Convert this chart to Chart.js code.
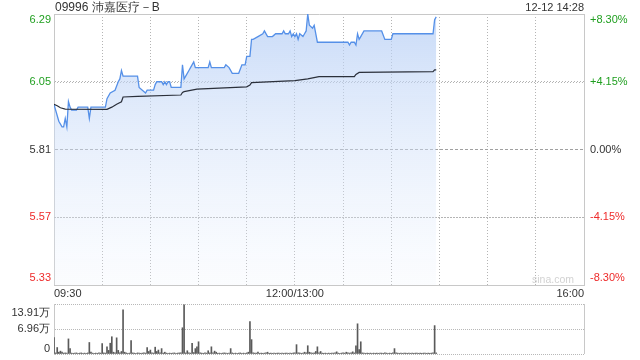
<!DOCTYPE html>
<html><head><meta charset="utf-8">
<script src="https://cdn.jsdelivr.net/npm/chart.js@4/dist/chart.umd.min.js"></script>
<style>
html,body{margin:0;padding:0;background:#fff;}
#wrap{position:relative;width:640px;height:360px;overflow:hidden;font-family:"Liberation Sans",Arial,sans-serif;}
#main{position:absolute;left:0;top:0;}
#vol{position:absolute;left:0;top:296px;}
.t{position:absolute;white-space:nowrap;color:#333;}
</style></head><body>
<div id="wrap">
<canvas id="main" width="640" height="300"></canvas>
<canvas id="vol" width="640" height="64"></canvas>
<div class="t" style="left:55px;top:0;font-size:12px;line-height:15px;">09996 沛嘉医疗－B</div>
<div class="t" style="right:56px;top:0;font-size:11px;line-height:15px;">12-12 14:28</div>
<div class="t" style="left:532px;top:273px;font-size:10.5px;line-height:13px;color:#d2d2d2;">sina.com</div>
</div>
<script>
const prevClose = 5.81;
const priceTicks = [5.33, 5.57, 5.81, 6.05, 6.29];
const priceTickLabels = ['5.33', '5.57', '5.81', '6.05', '6.29'];
const pctTickLabels = ['-8.30%', '-4.15%', '0.00%', '+4.15%', '+8.30%'];
const xTicks = [0, 30, 60, 90, 120, 150, 180, 210, 240, 270, 300, 330];
const xTickLabels = ['09:30', '', '', '', '', '12:00/13:00', '', '', '', '', '', '16:00'];

const priceMinutes = [0, 3, 5, 6, 7, 8, 9, 10, 11, 14, 15, 21, 22, 23, 32, 33, 35, 38, 40, 41, 42, 43, 52, 53, 55, 57, 58, 62, 63, 64, 67, 68, 69, 70, 71, 72, 73, 79, 80, 81, 82, 84, 85, 87, 88, 96, 97, 98, 106, 107, 109, 111, 115, 117, 119, 120, 122, 123, 124, 127, 130, 131, 133, 136, 138, 142, 143, 144, 146, 147, 148, 149, 150, 151, 152, 153, 155, 156, 157, 158, 159, 161, 162, 164, 183, 184, 185, 187, 188, 189, 190, 191, 193, 204, 206, 210, 211, 236, 237, 238];
const priceValues = [5.97, 5.91, 5.89, 5.89, 5.92, 5.89, 5.98, 5.96, 5.95, 5.95, 5.96, 5.96, 5.92, 5.96, 5.96, 5.99, 6.01, 6.02, 6.05, 6.06, 6.09, 6.07, 6.07, 6.03, 6.02, 6.01, 6.02, 6.02, 6.04, 6.05, 6.05, 6.04, 6.05, 6.04, 6.05, 6.05, 6.03, 6.03, 6.11, 6.06, 6.07, 6.09, 6.10, 6.12, 6.10, 6.10, 6.12, 6.10, 6.10, 6.11, 6.10, 6.08, 6.08, 6.11, 6.11, 6.14, 6.14, 6.20, 6.20, 6.21, 6.22, 6.23, 6.21, 6.21, 6.22, 6.22, 6.23, 6.22, 6.22, 6.23, 6.21, 6.22, 6.21, 6.22, 6.20, 6.22, 6.21, 6.22, 6.23, 6.29, 6.25, 6.24, 6.25, 6.19, 6.19, 6.18, 6.19, 6.19, 6.18, 6.22, 6.20, 6.21, 6.23, 6.23, 6.20, 6.20, 6.22, 6.22, 6.27, 6.28];

const avgMinutes = [0, 2, 4, 7, 33, 36, 39, 42, 43, 52, 79, 80, 81, 89, 120, 122, 123, 150, 158, 165, 187, 188, 190, 236, 237, 238];
const avgValues = [5.970, 5.965, 5.958, 5.953, 5.952, 5.960, 5.970, 5.979, 5.996, 5.998, 6.003, 6.012, 6.015, 6.024, 6.032, 6.038, 6.047, 6.054, 6.060, 6.068, 6.068, 6.076, 6.083, 6.086, 6.092, 6.092];

const volumes = [
  46000, 3000, 18000, 5000, 8000, 5000, 2500, 3000, 2500, 42000,
  15000, 2500, 2000, 2500, 3000, 2000, 2500, 3000, 2000, 2500,
  2000, 3000, 32000, 5000, 2500, 2000, 2500, 2000, 3000, 2500,
  29000, 3000, 2500, 20000, 10000, 30000, 48000, 5000, 3000, 45000,
  10000, 3000, 7000, 123000, 5000, 3000, 2000, 2500, 37000, 3000,
  2500, 2000, 3000, 2500, 2000, 2500, 3000, 2500, 18000, 7000,
  11000, 3000, 2500, 19000, 7000, 11000, 3000, 15000, 2500, 5000,
  2500, 2000, 2500, 2000, 2500, 3000, 2000, 2500, 3000, 3500,
  73000, 137000, 3000, 9000, 3000, 2500, 30000, 4000, 15000, 20000,
  34000, 3000, 2500, 2000, 3000, 2500, 9000, 3000, 20000, 3000,
  8000, 5000, 2000, 2500, 2000, 2500, 3000, 2500, 2000, 2500,
  15000, 3000, 2000, 2500, 2000, 2500, 3000, 2000, 2500, 2000,
  3000, 5000, 90000, 40000, 3000, 2500, 2500, 5000, 2000, 2500,
  2000, 2500, 3000, 5000, 2000, 2500, 2000, 2500, 2000, 2500,
  2500, 2000, 2500, 2000, 2500, 2500, 2000, 2500, 2000, 3000,
  3000, 26000, 3000, 3000, 2000, 2500, 5000, 3000, 23000, 5000,
  3000, 2500, 3000, 7000, 20000, 3000, 7000, 2500, 2000, 2500,
  2000, 2500, 2000, 2500, 2500, 3000, 6000, 2500, 2000, 2500,
  3000, 2500, 5000, 3000, 2500, 3000, 6000, 3000, 23000, 84000,
  12000, 34000, 3000, 2500, 2000, 2500, 2000, 2500, 2000, 2500,
  2000, 2500, 2000, 2500, 2500, 2000, 3000, 2500, 2000, 2500,
  2000, 3000, 15000, 3000, 2500, 2000, 2500, 2000, 2500, 2500,
  2000, 2500, 2000, 2500, 2000, 2500, 2500, 2000, 2500, 2000,
  2500, 2500, 2000, 2500, 2000, 2500, 3000, 79000, 3000
];
const volTicks = [0, 69550, 139100];
const volTickLabels = ['0', '6.96万', '13.91万'];

Chart.defaults.font.family = '"Liberation Sans", Arial, sans-serif';
Chart.defaults.font.size = 11;
Chart.defaults.color = '#333';

const GREEN = '#1f9f1f', RED = '#ee2a2a', DARK = '#333333';
function priceColor(v) { return v > prevClose + 1e-9 ? GREEN : (v < prevClose - 1e-9 ? RED : DARK); }
function edgeLabel(i, n, text) {
  if (i === n - 1) return ['', text];
  if (i === 0) return [text, ''];
  return text;
}
function edgeFont(i, n, topLH, botLH) {
  if (i === n - 1) return { size: 11, lineHeight: topLH + 'px' };
  if (i === 0) return { size: 11, lineHeight: botLH + 'px' };
  return { size: 11, lineHeight: 1.2 };
}
function noPad(s) { s.paddingTop = 0; s.paddingBottom = 0; s.paddingLeft = 0; s.paddingRight = 0; }
const CLEAR = 'rgba(0,0,0,0)';
const BORDER = '#c8c8c8';
const DOT = '#b4b4b4';
const HDASH = [[], [1, 2], [3, 2], [1, 2], []];
const HCOLOR = [CLEAR, DOT, '#a0a0a0', DOT, BORDER];

const mainCtx = document.getElementById('main');
new Chart(mainCtx, {
  type: 'line',
  data: {
    datasets: [
      {
        label: '均价',
        data: avgMinutes.map((m, i) => ({ x: m, y: avgValues[i] })),
        borderColor: '#2b303b', borderWidth: 1.2, pointRadius: 0, fill: false, tension: 0
      },
      {
        label: '价格',
        data: priceMinutes.map((m, i) => ({ x: m, y: priceValues[i] })),
        borderColor: '#5590e8', borderWidth: 1.3, pointRadius: 0, tension: 0,
        fill: 'start',
        backgroundColor: (ctx) => {
          const a = ctx.chart.chartArea;
          if (!a) return 'rgba(200,220,248,0.5)';
          const g = ctx.chart.ctx.createLinearGradient(0, a.top, 0, a.bottom);
          g.addColorStop(0, 'rgba(180,205,245,0.72)');
          g.addColorStop(1, 'rgba(235,242,253,0.2)');
          return g;
        }
      }
    ]
  },
  options: {
    responsive: false, animation: false, events: [],
    layout: { padding: { top: 14, left: 0, right: 0, bottom: 0 } },
    plugins: { legend: { display: false }, tooltip: { enabled: false } },
    scales: {
      x: {
        type: 'linear', min: 0, max: 330,
        afterBuildTicks: s => { s.ticks = xTicks.map(v => ({ value: v })); },
        afterFit: s => { s.height = 15; noPad(s); },
        ticks: { autoSkip: false, maxRotation: 0, minRotation: 0, align: 'inner', padding: 2, color: DARK,
          callback: (v, i) => xTickLabels[i] },
        grid: { drawTicks: false, lineWidth: 1,
          color: ctx => (ctx.index === 0 || ctx.index === xTicks.length - 1) ? CLEAR : DOT },
        border: { display: true, color: BORDER, dash: [1, 2] }
      },
      y: {
        position: 'left', min: priceTicks[0], max: priceTicks[priceTicks.length - 1],
        afterBuildTicks: s => { s.ticks = priceTicks.map(v => ({ value: v })); },
        afterFit: s => { s.width = 54; noPad(s); },
        ticks: { autoSkip: false, padding: 3,
          color: ctx => priceColor(priceTicks[ctx.index]),
          font: ctx => edgeFont(ctx.index, priceTicks.length, 12.6, 14.6),
          callback: (v, i) => edgeLabel(i, priceTicks.length, priceTickLabels[i]) },
        grid: { drawTicks: false, lineWidth: 1,
          color: ctx => (ctx.index === undefined ? BORDER : HCOLOR[ctx.index]) },
        border: { display: true, color: BORDER,
          dash: ctx => (ctx.index === undefined ? [] : HDASH[ctx.index].slice()) }
      },
      y2: {
        position: 'right', min: priceTicks[0], max: priceTicks[priceTicks.length - 1],
        afterBuildTicks: s => { s.ticks = priceTicks.map(v => ({ value: v })); },
        afterFit: s => { s.width = 56; noPad(s); },
        ticks: { autoSkip: false, padding: 6,
          color: ctx => priceColor(priceTicks[ctx.index]),
          font: ctx => edgeFont(ctx.index, priceTicks.length, 12.6, 14.6),
          callback: (v, i) => edgeLabel(i, pctTickLabels.length, pctTickLabels[i]) },
        grid: { display: false, drawTicks: false },
        border: { display: true, color: BORDER }
      }
    }
  },
  plugins: [{
    id: 'hdots',
    beforeDatasetsDraw(chart) {
      const s = chart.scales.y, a = chart.chartArea, c = chart.ctx;
      [1, 3].forEach(i => {
        const y = Math.round(s.getPixelForValue(priceTicks[i])) + 0.5;
        c.save();
        c.strokeStyle = DOT; c.lineWidth = 1; c.setLineDash([1, 2]);
        c.beginPath(); c.moveTo(a.left, y); c.lineTo(a.right, y); c.stroke();
        c.restore();
      });
    }
  }]
});

const volCtx = document.getElementById('vol');
new Chart(volCtx, {
  type: 'bar',
  data: {
    datasets: [{
      label: '成交量',
      data: volumes.map((v, i) => ({ x: i, y: v })),
      backgroundColor: '#5a5a5a', borderWidth: 0, barThickness: 1
    }]
  },
  options: {
    responsive: false, animation: false, events: [],
    layout: { padding: { top: 8, left: 0, right: 56, bottom: 0 } },
    plugins: { legend: { display: false }, tooltip: { enabled: false } },
    scales: {
      x: {
        type: 'linear', min: 0, max: 330, offset: false,
        afterBuildTicks: s => { s.ticks = [{ value: 0 }, { value: 330 }]; },
        afterFit: s => { s.height = 6; noPad(s); },
        ticks: { display: false, autoSkip: false },
        grid: { offset: false, drawTicks: false, color: BORDER },
        border: { display: false }
      },
      y: {
        position: 'left', min: volTicks[0], max: volTicks[volTicks.length - 1],
        afterBuildTicks: s => { s.ticks = volTicks.map(v => ({ value: v })); },
        afterFit: s => { s.width = 54; noPad(s); },
        ticks: { autoSkip: false, padding: 4, color: DARK,
          font: ctx => edgeFont(ctx.index, volTicks.length, 17, 11),
          callback: (v, i) => edgeLabel(i, volTicks.length, volTickLabels[i]) },
        grid: { drawTicks: false, color: '#b8b8b8' },
        border: { display: true, color: BORDER, dash: [1, 1] }
      }
    }
  }
});
</script>
</body></html>
